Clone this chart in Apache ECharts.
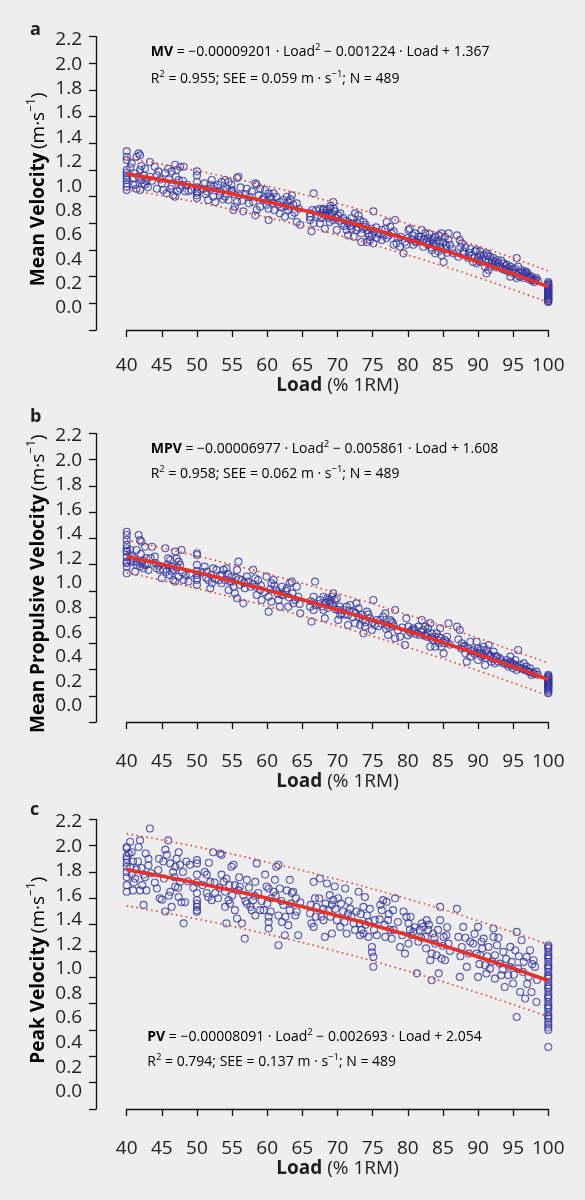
<!DOCTYPE html>
<html><head><meta charset="utf-8">
<script src="https://cdn.jsdelivr.net/npm/echarts@6/dist/echarts.min.js"></script>
<style>html,body{margin:0;padding:0;background:#eeeeee}#c{width:585px;height:1200px}</style>
</head><body><div id="c"></div>
<script>
// ---------- DATA ----------
const fitLoads = [40, 50, 60, 70, 80, 90, 100];
const mvFit   = [1.171, 1.076, 0.962, 0.831, 0.680, 0.512, 0.325];
const mvUpper = [1.289, 1.194, 1.080, 0.949, 0.798, 0.630, 0.443];
const mvLower = [1.053, 0.958, 0.844, 0.713, 0.562, 0.394, 0.207];
const mpvFit   = [1.262, 1.141, 1.005, 0.856, 0.693, 0.515, 0.324];
const mpvUpper = [1.386, 1.265, 1.129, 0.980, 0.817, 0.639, 0.448];
const mpvLower = [1.138, 1.017, 0.881, 0.732, 0.569, 0.391, 0.200];
const pvFit   = [1.817, 1.717, 1.601, 1.469, 1.321, 1.156, 0.976];
const pvUpper = [2.091, 1.991, 1.875, 1.743, 1.595, 1.430, 1.250];
const pvLower = [1.543, 1.443, 1.327, 1.195, 1.047, 0.882, 0.702];

const mvPoints = [
[40,1.34],[40,1.30],[40,1.275],[40,1.2],[40,1.16],[40,1.14],[40,1.125],[40,1.10],[40,1.075],[40,1.18],[40,1.05],
[40.5,1.22],[40.7,1.25],[40.9,1.09],[41.0,1.14],[41.2,1.175],[41.2,1.09],[41.4,1.30],[41.4,1.06],[41.7,1.325],[41.7,1.15],[41.9,1.31],[41.9,1.05],[41.9,1.20],[42.1,1.125],[42.1,1.23],[42.4,1.10],[42.4,1.16],[42.6,1.09],[42.6,1.21],[42.8,1.12],[43.0,1.07],
[43.3,1.26],[43.3,1.15],[43.6,1.12],
[44.0,1.225],[44.3,1.06],[44.3,1.16],[44.5,1.19],[44.8,1.13],[45.0,1.10],[45.2,1.05],[45.5,1.18],[45.7,1.025],
[45.9,1.21],[46.0,1.13],[46.2,1.06],[46.4,1.19],[46.4,1.08],[46.6,1.01],[46.9,1.24],[46.9,1.00],[47.0,1.15],[47.1,1.20],[47.2,1.04],[47.4,1.125],[47.6,1.225],[47.6,1.06],[47.8,1.09],[48.0,1.12],[48.1,1.225],[48.3,1.04],[48.6,1.09],[48.8,1.04],[49.2,1.05],
[50,1.19],[50,1.16],[50,1.11],[50,1.07],[50,1.04],[50,1.03],[50,1.01],[50,0.99],
[50.9,1.06],[51.1,1.10],[51.2,1.02],[51.4,1.04],[51.6,0.975],[51.9,1.09],[52.0,1.06],[52.1,1.125],[52.3,1.00],[52.4,1.08],[52.6,0.96],
[53.0,1.09],[53.2,1.04],[53.3,1.01],[53.5,1.11],[53.7,0.98],[53.8,1.05],[54.0,1.125],[54.0,1.00],[54.3,1.06],[54.5,1.11],[54.5,0.975],[54.9,1.09],[54.9,1.04],[55.0,1.05],[55.2,0.90],[55.3,1.02],[55.4,0.925],[55.7,1.14],[55.7,0.96],[55.9,1.15],[56.1,1.01],[56.2,1.07],[56.4,0.97],[56.6,0.89],
[56.9,1.02],[57.1,1.06],[57.4,0.95],[57.5,1.00],[57.8,1.04],[58.0,0.96],[58.3,1.10],[58.3,0.86],[58.5,1.09],[58.5,0.90],[58.8,1.01],[59.0,1.06],[59.0,0.925],[59.3,0.98],[59.5,0.99],[59.7,1.05],[59.9,0.94],[60.0,0.97],[60.2,1.025],[60.2,0.91],[60.2,0.825],[60.4,1.00],[60.6,0.99],[60.8,0.95],[60.9,1.025],[61.0,0.90],
[61.3,1.00],[61.5,0.94],[61.8,0.96],[61.8,0.875],[62.0,0.92],[62.3,0.975],[62.5,0.85],[62.6,0.93],[62.8,1.00],[63.0,0.96],[63.0,0.90],[63.2,0.925],[63.3,0.98],[63.5,1.01],[63.5,0.86],[63.7,0.94],[63.9,0.88],[64.2,0.95],[64.2,0.81],[64.5,0.91],[64.7,0.79],
[66.1,0.875],[66.1,0.85],[66.1,0.825],[66.3,0.74],[66.4,0.90],[66.6,0.80],[66.6,1.025],
[67.0,0.90],[67.2,0.86],[67.5,0.91],[67.5,0.80],[67.7,0.84],[67.8,0.88],[68.0,0.90],[68.0,0.91],[68.2,0.86],[68.2,0.76],[68.4,0.88],[68.5,0.90],[68.7,0.84],[68.8,0.87],[68.9,0.91],[68.9,0.81],[69.0,0.93],[69.1,0.85],[69.2,0.875],[69.4,0.96],[69.4,0.825],[69.5,0.91],[69.6,0.89],[69.8,0.84],[69.9,0.75],[70.1,0.86],[70.2,0.82],[70.4,0.875],
[70.6,0.80],[70.8,0.84],[71.0,0.78],[71.2,0.82],[71.3,0.75],[71.5,0.81],[71.5,0.71],[71.8,0.78],[72.0,0.84],[72.0,0.76],[72.2,0.80],[72.3,0.70],[72.5,0.875],[72.7,0.75],[72.8,0.80],[72.9,0.77],[73.0,0.86],[73.2,0.825],[73.4,0.725],[73.4,0.66],[73.6,0.76],[73.7,0.81],[73.9,0.775],[74.0,0.79],[74.2,0.75],[74.2,0.66],[75.1,0.89],
[74.4,0.725],[74.5,0.70],[74.6,0.675],[74.8,0.76],[74.9,0.71],[75.1,0.65],[75.3,0.74],[75.5,0.77],[75.6,0.69],[75.8,0.725],[76.0,0.72],[76.3,0.75],[76.3,0.675],[76.6,0.71],[76.8,0.76],[77.0,0.81],[77.0,0.69],[77.3,0.71],[77.5,0.775],[77.7,0.725],[78.0,0.74],[78.0,0.64],[78.2,0.825],
[78.4,0.65],[78.6,0.69],[78.9,0.625],[79.0,0.70],[79.4,0.575],[79.6,0.66],[79.8,0.64],[80.0,0.69],[80.1,0.75],[80.3,0.76],[80.5,0.68],[80.7,0.71],[80.8,0.64],[81.0,0.725],[81.1,0.66],[81.3,0.66],[81.5,0.70],
[81.7,0.675],[81.9,0.70],[82.0,0.75],[82.2,0.625],[82.3,0.68],[82.5,0.725],[82.7,0.66],[82.9,0.69],[82.9,0.64],[83.0,0.66],[83.1,0.72],[83.3,0.62],[83.4,0.675],[83.4,0.60],[83.6,0.65],[83.7,0.69],[83.9,0.70],[83.9,0.575],[84.0,0.63],[84.2,0.67],[84.4,0.71],[84.4,0.59],[84.6,0.65],[84.7,0.62],[84.8,0.725],[84.8,0.56],[85.0,0.66],[85.1,0.51],[85.3,0.70],[85.4,0.64],[85.5,0.61],[85.6,0.58],[85.8,0.725],[85.8,0.675],[86.0,0.64],
[86.3,0.61],[86.5,0.575],[87.0,0.71],[87.2,0.55],[87.4,0.675],[87.5,0.62],[87.7,0.65],[87.9,0.59],[88.0,0.57],[88.2,0.62],
[88.6,0.54],[88.7,0.58],[88.9,0.61],[89.1,0.56],[89.3,0.51],[89.5,0.54],[89.6,0.59],[89.8,0.60],[89.8,0.50],[90.0,0.54],[90.1,0.52],[90.3,0.59],[90.3,0.56],[90.3,0.51],[90.6,0.53],[90.8,0.56],[91.0,0.475],[91.1,0.53],[91.2,0.575],[91.2,0.425],[91.4,0.56],[91.5,0.51],[91.5,0.45],[91.7,0.55],[91.8,0.48],[91.9,0.50],[92.0,0.52],[92.2,0.54],[92.3,0.49],[92.4,0.51],[92.6,0.47],[92.7,0.525],[92.9,0.50],[93.1,0.475],[93.3,0.52],[93.4,0.46],
[93.6,0.50],[93.8,0.45],[93.9,0.48],[94.0,0.46],[94.1,0.49],[94.3,0.44],[94.4,0.46],[94.6,0.475],[94.6,0.40],[94.8,0.43],[95.0,0.45],[95.2,0.46],[95.3,0.425],[95.5,0.54],[95.5,0.39],[95.6,0.41],[95.7,0.475],[95.8,0.43],[96.0,0.40],[96.2,0.45],[96.3,0.43],[96.5,0.42],[96.5,0.39],[96.7,0.44],[96.8,0.42],[96.9,0.40],[97.0,0.43],[97.2,0.41],[97.3,0.38],[97.4,0.39],[97.6,0.40],[97.7,0.37],[97.9,0.375],[98.0,0.36],[98.1,0.38],[98.3,0.39],[98.5,0.37],
[100,0.21],[100,0.215],[100,0.22],[100,0.23],[100,0.235],[100,0.24],[100,0.25],[100,0.255],[100,0.26],[100,0.27],[100,0.275],[100,0.28],[100,0.29],[100,0.295],[100,0.30],[100,0.31],[100,0.315],[100,0.32],[100,0.33],[100,0.335],[100,0.34],[100,0.35],[100,0.36]
];

const mpvPoints = [
[40,1.45],[40,1.425],[40,1.387],[40,1.35],[40,1.324],[40,1.30],[40,1.298],[40,1.26],[40,1.222],[40,1.21],[40,1.184],[40,1.133],
[40.5,1.311],[40.5,1.235],[40.7,1.27],[40.9,1.222],[41.0,1.25],[41.2,1.146],[41.4,1.311],[41.4,1.197],[41.5,1.22],[41.7,1.425],[41.9,1.387],[41.9,1.184],[42.0,1.28],[42.1,1.374],[42.1,1.209],[42.3,1.23],[42.4,1.171],[42.6,1.336],[42.6,1.197],[42.8,1.247],[42.9,1.20],[43.1,1.159],[43.4,1.25],[43.6,1.336],
[44.0,1.26],[44.1,1.21],[44.3,1.171],[44.6,1.19],[44.7,1.159],[45.0,1.095],[45.2,1.16],[45.5,1.324],[45.7,1.146],[45.8,1.20],[45.9,1.247],[46.1,1.12],[46.2,1.235],[46.4,1.146],[46.4,1.184],[46.6,1.082],[46.7,1.16],[46.9,1.298],[46.9,1.07],[47.1,1.247],[47.2,1.18],[47.4,1.222],[47.4,1.108],[47.6,1.197],[47.8,1.311],[47.9,1.14],[48.1,1.082],[48.4,1.12],[48.8,1.07],[49.0,1.13],
[50,1.286],[50,1.273],[50,1.197],[50,1.15],[50,1.12],[50,1.095],[50,1.082],[50,1.044],
[50.7,1.14],[51.1,1.184],[51.3,1.10],[51.4,1.146],[51.6,1.082],[51.9,1.019],[52.0,1.12],[52.1,1.057],[52.3,1.171],[52.6,1.09],[52.8,1.159],[53.1,1.08],[53.3,1.12],[53.5,1.057],[53.6,1.12],[53.8,1.159],[54.0,1.082],[54.2,1.171],[54.4,1.13],[54.5,1.006],[54.7,1.07],[54.9,1.108],[55.0,1.07],[55.2,1.031],[55.4,0.981],[55.5,1.10],[55.7,1.159],[55.7,0.943],[55.9,1.222],[56.0,1.09],[56.1,1.044],[56.4,1.082],[56.6,0.904],
[56.7,1.06],[56.8,1.019],[57.1,1.108],[57.3,1.07],[57.6,1.031],[57.9,1.05],[58.0,1.159],[58.3,1.095],[58.4,1.03],[58.5,0.968],[58.7,1.082],[59.0,1.006],[59.1,1.04],[59.2,0.93],[59.6,0.99],[59.9,1.108],[60.2,0.955],[60.2,0.841],[60.4,1.01],[60.6,1.057],[60.6,0.917],[60.9,1.082],[61.0,1.04],[61.3,1.006],[61.5,0.98],[61.6,0.93],[61.8,0.879],[62.0,0.97],[62.1,1.031],[62.3,0.968],[62.6,1.00],[62.8,1.019],[63.0,0.879],[63.1,0.95],[63.2,1.057],[63.5,1.07],[63.6,0.98],[63.7,0.904],[64.0,0.93],[64.2,1.031],[64.4,0.955],[64.6,0.90],[64.7,0.828],
[66.1,0.879],[66.2,0.92],[66.3,0.765],[66.6,0.955],[66.6,0.854],[66.8,1.07],[66.9,0.89],[67.3,0.90],[67.5,0.93],[67.8,0.88],[68.0,0.955],[68.0,0.854],[68.2,0.79],[68.3,0.91],[68.5,0.943],[68.6,0.87],[68.7,0.93],[68.9,0.904],[69.0,0.92],[69.2,0.955],[69.3,0.89],[69.4,0.981],[69.6,0.93],[69.7,0.86],[69.9,0.943],[70.1,0.854],[70.1,0.777],[70.3,0.88],[70.4,0.816],
[70.6,0.83],[70.8,0.854],[71.0,0.82],[71.3,0.879],[71.5,0.816],[71.5,0.739],[71.7,0.85],[71.8,0.892],[72.1,0.80],[72.3,0.841],[72.5,0.752],[72.6,0.83],[72.7,0.904],[73.0,0.866],[73.1,0.80],[73.2,0.739],[73.4,0.816],[73.6,0.78],[73.7,0.676],[73.9,0.727],[74.0,0.76],[74.2,0.841],[74.4,0.82],[74.6,0.79],[74.9,0.701],[75.0,0.76],[75.1,0.93],[75.3,0.739],[75.6,0.777],[75.8,0.73],
[76.1,0.777],[76.3,0.75],[76.5,0.803],[76.8,0.828],[76.9,0.71],[77.0,0.739],[77.2,0.663],[77.4,0.72],[77.5,0.777],[77.7,0.765],[77.9,0.752],[78.0,0.73],[78.2,0.854],[78.2,0.638],[78.6,0.70],[78.9,0.65],[79.2,0.72],[79.6,0.587],[79.8,0.79],[80.0,0.66],[80.1,0.727],[80.3,0.689],[80.5,0.676],[80.6,0.70],[80.8,0.714],[81.0,0.701],[81.2,0.67],[81.5,0.727],[81.7,0.663],[81.9,0.69],
[82.0,0.777],[82.2,0.701],[82.4,0.66],[82.5,0.727],[82.7,0.65],[82.8,0.68],[82.9,0.714],[83.2,0.574],[83.2,0.752],[83.3,0.64],[83.4,0.676],[83.6,0.625],[83.8,0.65],[83.9,0.574],[84.1,0.676],[84.3,0.62],[84.4,0.65],[84.4,0.6],[84.6,0.714],[84.7,0.64],[84.8,0.574],[85.1,0.523],[85.2,0.60],[85.3,0.625],[85.5,0.612],[85.6,0.65],[85.8,0.752],[86.0,0.59],
[87.0,0.727],[87.2,0.63],[87.4,0.701],[87.6,0.56],[87.7,0.6],[87.9,0.574],[88.1,0.58],[88.2,0.523],[88.4,0.46],[88.6,0.56],[88.9,0.612],[88.9,0.498],[89.0,0.54],[89.3,0.549],[89.5,0.52],[89.8,0.612],[89.9,0.53],[90.0,0.561],[90.0,0.473],[90.3,0.523],[90.4,0.55],[90.5,0.498],[90.7,0.51],[90.8,0.574],[91.0,0.434],[91.1,0.49],[91.2,0.549],[91.4,0.52],[91.5,0.587],[91.7,0.511],[91.8,0.50],[91.9,0.46],[92.1,0.48],[92.2,0.536],[92.4,0.447],[92.5,0.50],[92.7,0.498],[92.9,0.46],
[93.1,0.485],[93.3,0.47],[93.6,0.447],[93.8,0.45],[94.1,0.473],[94.2,0.44],[94.3,0.422],[94.6,0.498],[94.6,0.46],[94.7,0.43],[94.8,0.447],[95.0,0.409],[95.1,0.44],[95.3,0.473],[95.3,0.434],[95.5,0.396],[95.6,0.42],[95.7,0.549],[96.0,0.434],[96.1,0.41],[96.2,0.409],[96.5,0.447],[96.6,0.40],[96.7,0.396],[96.9,0.422],[97.0,0.39],[97.2,0.384],[97.4,0.409],[97.5,0.38],[97.6,0.358],[97.9,0.371],[98.0,0.37],[98.3,0.384],[98.5,0.36],
[100,0.22],[100,0.23],[100,0.24],[100,0.25],[100,0.26],[100,0.265],[100,0.27],[100,0.28],[100,0.285],[100,0.29],[100,0.30],[100,0.305],[100,0.31],[100,0.32],[100,0.325],[100,0.33],[100,0.34],[100,0.345],[100,0.35],[100,0.36]
];

const pvPoints = [
[40,1.99],[40,1.98],[40,1.92],[40,1.90],[40,1.87],[40,1.84],[40,1.80],[40,1.76],[40,1.70],[40,1.65],
[40.3,1.94],[40.5,2.03],[40.5,1.84],[40.7,1.95],[40.7,1.78],[40.9,1.88],[40.9,1.66],[41.0,1.72],[41.2,1.75],[41.4,1.82],[41.6,1.88],[41.7,1.99],[41.9,2.04],[41.9,1.66],[42.1,1.83],[42.2,1.70],[42.4,1.78],[42.4,1.55],[42.6,1.76],[42.7,1.94],[42.8,1.66],[43.1,1.90],[43.1,1.85],[43.3,2.13],[43.5,1.79],
[44.0,1.72],[44.3,1.675],[44.5,1.815],[44.6,1.90],[44.7,1.60],[45.0,1.59],[45.2,1.88],[45.3,1.75],[45.5,1.97],[45.5,1.50],[45.7,1.93],[45.9,2.04],[46.0,1.62],[46.2,1.865],[46.2,1.65],[46.4,1.535],[46.6,1.80],[46.8,1.76],[46.9,1.69],[46.9,1.84],[47.1,1.90],[47.3,1.68],[47.4,1.95],[47.4,1.61],[47.6,1.855],[47.6,1.725],[47.8,1.57],[48.0,1.80],[48.1,1.41],[48.3,1.57],[48.5,1.88],[48.7,1.73],[49.0,1.855],[49.5,1.68],
[50,1.89],[50,1.865],[50,1.78],[50,1.72],[50,1.64],[50,1.586],[50,1.56],[50,1.535],[50,1.51],[50,1.497],
[50.8,1.70],[51.1,1.80],[51.4,1.78],[51.4,1.64],[51.6,1.61],[51.7,1.87],[51.9,1.725],[52.1,1.586],[52.3,1.95],[52.5,1.72],[52.6,1.64],[53.0,1.60],[53.2,1.68],[53.3,1.94],[53.5,1.93],[53.5,1.78],[53.8,1.725],[54.0,1.65],[54.0,1.535],[54.2,1.75],[54.2,1.41],[54.5,1.586],[54.6,1.70],[54.7,1.56],[54.9,1.84],[55.0,1.62],[55.2,1.855],[55.4,1.70],[55.4,1.51],[55.7,1.447],[55.9,1.66],[56.0,1.76],[56.1,1.69],[56.4,1.41],[56.6,1.624],[56.8,1.294],[56.9,1.58],
[57.1,1.74],[57.1,1.56],[57.4,1.68],[57.6,1.535],[57.8,1.51],[58.0,1.586],[58.2,1.62],[58.3,1.725],[58.3,1.47],[58.5,1.865],[58.7,1.64],[59.0,1.51],[59.2,1.58],[59.5,1.51],[59.7,1.78],[59.9,1.69],[60.0,1.56],[60.2,1.675],[60.2,1.46],[60.2,1.42],[60.2,1.37],[60.5,1.50],[60.6,1.60],[60.9,1.65],[61.1,1.74],[61.2,1.62],[61.3,1.84],[61.6,1.855],[61.6,1.47],[61.6,1.244],[61.8,1.675],[62.0,1.58],[62.1,1.42],[62.3,1.55],[62.5,1.32],[62.6,1.46],[62.8,1.66],[63.0,1.396],[63.2,1.74],[63.2,1.51],[63.4,1.56],[63.5,1.64],[63.7,1.65],[64.0,1.47],[64.1,1.60],[64.2,1.50],[64.4,1.32],[64.7,1.57],
[66.1,1.485],[66.2,1.55],[66.3,1.41],[66.6,1.725],[66.6,1.383],[66.8,1.60],[66.9,1.46],[67.0,1.535],[67.4,1.60],[67.5,1.75],[67.7,1.46],[68.0,1.52],[68.0,1.434],[68.2,1.307],[68.3,1.56],[68.5,1.713],[68.7,1.51],[68.9,1.624],[69.0,1.46],[69.2,1.333],[69.2,1.55],[69.4,1.586],[69.6,1.69],[69.7,1.52],[69.9,1.434],[70.1,1.60],[70.4,1.383],[70.5,1.56],
[70.8,1.50],[71.0,1.42],[71.1,1.675],[71.3,1.333],[71.5,1.485],[71.6,1.58],[71.8,1.52],[72.0,1.46],[72.3,1.41],[72.5,1.36],[72.7,1.50],[73.0,1.65],[73.2,1.41],[73.2,1.32],[73.3,1.48],[73.4,1.36],[73.7,1.535],[73.7,1.333],[73.9,1.61],[74.0,1.40],[74.2,1.47],[74.4,1.42],[74.4,1.307],[74.6,1.52],[74.9,1.23],[74.9,1.19],[75.1,1.155],[75.1,1.08],[75.2,1.36],[75.3,1.434],[75.6,1.32],
[76.0,1.44],[76.1,1.55],[76.3,1.51],[76.5,1.586],[76.7,1.40],[76.8,1.307],[77.0,1.573],[77.2,1.434],[77.3,1.48],[77.5,1.36],[77.7,1.294],[77.9,1.51],[78.0,1.36],[78.2,1.60],[78.6,1.42],[78.9,1.23],[79.2,1.32],[79.4,1.50],[79.6,1.18],[79.8,1.46],[80.1,1.256],[80.1,1.41],[80.3,1.36],[80.4,1.46],[80.5,1.32],[80.8,1.345],[81.0,1.38],[81.3,1.03],[81.5,1.27],[81.7,1.36],[81.9,1.30],
[82.0,1.41],[82.2,1.383],[82.5,1.307],[82.6,1.22],[82.7,1.434],[82.9,1.36],[83.0,1.40],[83.2,1.13],[83.4,0.978],[83.4,1.18],[83.6,1.333],[83.8,1.30],[83.9,1.256],[84.1,1.168],[84.3,1.36],[84.4,1.03],[84.6,1.434],[84.6,1.535],[84.8,1.142],[85.0,1.24],[85.1,1.307],[85.3,1.13],[85.5,1.32],[85.6,1.38],[85.8,1.256],[86.0,1.20],
[87.0,1.52],[87.2,1.307],[87.4,1.003],[87.5,1.16],[87.7,1.23],[87.9,1.383],[88.2,1.30],[88.4,1.079],[88.7,1.18],[88.9,1.27],[89.3,1.256],[89.5,1.33],[89.8,1.18],[90.0,1.383],[90.0,1.003],[90.2,1.10],[90.3,1.168],[90.5,1.27],[90.6,1.22],[90.8,1.294],[91.0,1.092],[91.2,1.029],[91.3,1.16],[91.5,1.23],[91.7,1.066],[92.0,1.12],[92.2,1.371],[92.2,1.307],[92.4,1.168],[92.4,0.99],[92.7,1.244],[92.9,1.30],[93.1,1.104],[93.3,1.016],[93.5,1.06],[93.6,1.193],
[93.8,0.927],[94.0,1.14],[94.3,1.016],[94.5,1.08],[94.6,1.231],[94.8,1.117],[95.0,0.953],[95.1,1.02],[95.3,1.206],[95.5,1.345],[95.5,0.699],[95.7,1.066],[95.8,1.16],[96.0,0.889],[96.2,1.282],[96.4,1.04],[96.5,1.117],[96.7,0.839],[96.9,1.155],[97.0,0.95],[97.2,1.003],[97.4,1.206],[97.6,0.889],[97.7,1.10],[97.9,1.13],[98.1,1.079],[98.3,0.813],[98.4,0.98],
[100,1.244],[100,1.23],[100,1.219],[100,1.193],[100,1.168],[100,1.155],[100,1.142],[100,1.117],[100,1.092],[100,1.08],[100,1.066],[100,1.041],[100,1.016],[100,1.003],[100,0.99],[100,0.965],[100,0.94],[100,0.927],[100,0.915],[100,0.89],[100,0.864],[100,0.851],[100,0.839],[100,0.813],[100,0.788],[100,0.775],[100,0.762],[100,0.737],[100,0.712],[100,0.70],[100,0.686],[100,0.66],[100,0.64],[100,0.62],[100,0.60],[100,0.471]
];

const yNames = ['Mean Velocity', 'Mean Propulsive Velocity', 'Peak Velocity'];
const eqNames = ['MV', 'MPV', 'PV'];
const eqLine1 = [' = −0.00009201 · Load', ' = −0.00006977 · Load', ' = −0.00008091 · Load'];
const eqLine1b = [' − 0.001224 · Load + 1.367', ' − 0.005861 · Load + 1.608', ' − 0.002693 · Load + 2.054'];
const eqStats = ['= 0.955; SEE = 0.059 m · s', '= 0.958; SEE = 0.062 m · s', '= 0.794; SEE = 0.137 m · s'];
const letters = ['a', 'b', 'c'];

// ---------- LAYOUT ----------
const FONT = '"Open Sans", "Noto Sans", sans-serif';
const TXT = '#1e1e1e';
const LEFT = 126.7, WIDTH = 421.6;
const layout = [
  {top: 36.7, h: 293.3, lTop: 40, lH: 268, xOff: 10, eqY: [52, 79.5], letterY: 31},
  {top: 433.3, h: 288.7, lTop: 435.8, lH: 270, xOff: 14, eqY: [449, 474.5], letterY: 418},
  {top: 819.3, h: 289.7, lTop: 821.7, lH: 270, xOff: 14, eqY: [1037, 1062], letterY: 811}
];
const allPoints = [mvPoints, mpvPoints, pvPoints];
const fits = [[mvFit, mvUpper, mvLower], [mpvFit, mpvUpper, mpvLower], [pvFit, pvUpper, pvLower]];

const grid = [], xAxis = [], yAxis = [], series = [], graphic = [];
const EQ = 14;
const supRich = {
  b: {fontWeight: 'bold', fontSize: EQ, fontFamily: FONT, color: TXT, lineHeight: 20},
  n: {fontSize: EQ, fontFamily: FONT, color: TXT, lineHeight: 20},
  sup: {fontSize: 9.5, fontFamily: FONT, color: TXT, verticalAlign: 'top', lineHeight: 10}
};
layout.forEach((L, i) => {
  grid.push({left: LEFT, width: WIDTH, top: L.top, height: L.h});
  xAxis.push({
    gridIndex: i, type: 'value', min: 40, max: 100, interval: 5, offset: L.xOff,
    axisLine: {show: true, lineStyle: {color: '#111', width: 1.3}},
    axisTick: {show: true, length: 7, lineStyle: {color: '#111', width: 1.3}},
    axisLabel: {fontSize: 19, color: TXT, fontFamily: FONT, margin: 16},
    splitLine: {show: false},
    name: '{b|Load} {n|(% 1RM)}', nameLocation: 'middle', nameGap: 36,
    nameTextStyle: {fontSize: 19, color: TXT, fontFamily: FONT, rich: {
      b: {fontWeight: 'bold', fontSize: 19, fontFamily: FONT, color: TXT},
      n: {fontSize: 19, fontFamily: FONT, color: TXT}}}
  });
  yAxis.push({
    gridIndex: i, type: 'value', min: 0, max: 2.2, interval: 0.2, offset: 30.7,
    axisLine: {show: true, lineStyle: {color: '#111', width: 1.3}},
    axisTick: {show: true, length: 7, lineStyle: {color: '#111', width: 1.3}},
    axisLabel: {show: false}, splitLine: {show: false}
  });
});
layout.forEach((L, i) => {
  grid.push({left: LEFT, width: WIDTH, top: L.lTop, height: L.lH});
  xAxis.push({gridIndex: 3 + i, type: 'value', min: 0, max: 1, show: false});
  yAxis.push({
    gridIndex: 3 + i, type: 'value', min: 0, max: 2.2, interval: 0.2, offset: 30.7,
    axisLine: {show: false}, axisTick: {show: false}, splitLine: {show: false},
    axisLabel: {fontSize: 19, color: TXT, fontFamily: FONT, margin: 14, formatter: v => v.toFixed(1)}
  });
});
layout.forEach((L, i) => {
  series.push({
    type: 'scatter', xAxisIndex: i, yAxisIndex: i, data: allPoints[i], symbol: 'circle', symbolSize: 7,
    itemStyle: {color: 'rgba(0,0,0,0)', borderColor: '#34349c', borderWidth: 1.1}, z: 2, silent: true
  });
  const [f, u, lo] = fits[i];
  const mk = (arr) => fitLoads.map((x, k) => [x, arr[k]]);
  series.push({type: 'line', xAxisIndex: i, yAxisIndex: i, data: mk(u), showSymbol: false, smooth: true,
    lineStyle: {color: '#e8402f', width: 1.6, type: [1.6, 3.4]}, z: 3, silent: true});
  series.push({type: 'line', xAxisIndex: i, yAxisIndex: i, data: mk(lo), showSymbol: false, smooth: true,
    lineStyle: {color: '#e8402f', width: 1.6, type: [1.6, 3.4]}, z: 3, silent: true});
  series.push({type: 'line', xAxisIndex: i, yAxisIndex: i, data: mk(f), showSymbol: false, smooth: true,
    lineStyle: {color: '#e8302a', width: 3.6}, z: 4, silent: true});

  graphic.push({type: 'text', left: 30, top: L.letterY - 10, style: {text: letters[i], font: 'bold 18px ' + FONT, fill: TXT}});
  graphic.push({type: 'text', x: i === 2 ? 147.3 : 150.7, y: L.eqY[0], style: {
    text: '{b|' + eqNames[i] + '}{n|' + eqLine1[i] + '}{sup|2}{n|' + eqLine1b[i] + '}',
    rich: supRich, verticalAlign: 'middle', align: 'left'}});
  graphic.push({type: 'text', x: i === 2 ? 147.3 : 150.7, y: L.eqY[1], style: {
    text: '{n|R}{sup|2}{n| ' + eqStats[i] + '}{sup|−1}{n|; N = 489}',
    rich: supRich, verticalAlign: 'middle', align: 'left'}});
  graphic.push({type: 'text', x: 39, y: L.top + L.h / 2 + 6, rotation: Math.PI / 2, style: {
    text: '{b|' + yNames[i] + '} {n|(m·s}{sup|−1}{n|)}',
    rich: {b: {fontWeight: 'bold', fontSize: 19, fontFamily: FONT, color: TXT, lineHeight: 26},
           n: {fontSize: 19, fontFamily: FONT, color: TXT, lineHeight: 26},
           sup: {fontSize: 12, fontFamily: FONT, color: TXT, verticalAlign: 'top', lineHeight: 14}},
    align: 'center', verticalAlign: 'middle'}});
});

const chart = echarts.init(document.getElementById('c'), null, {renderer: 'canvas'});
chart.setOption({backgroundColor: '#eeeeee', animation: false, grid, xAxis, yAxis, series, graphic});
</script></body></html>
